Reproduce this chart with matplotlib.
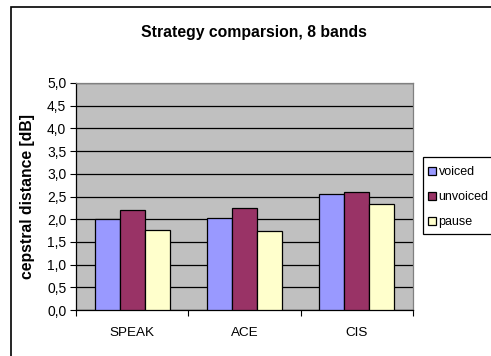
import matplotlib
matplotlib.use("Agg")
import matplotlib.pyplot as plt
import numpy as np
from matplotlib.patches import Rectangle

# Data
strategies = ["SPEAK", "ACE", "CIS"]
voiced = [2.00, 2.03, 2.56]
unvoiced = [2.21, 2.24, 2.59]
pause = [1.76, 1.74, 2.33]
series_names = ["voiced", "unvoiced", "pause"]
series_colors = ["#9999FF", "#993366", "#FFFFCC"]
yticks = [0.0, 0.5, 1.0, 1.5, 2.0, 2.5, 3.0, 3.5, 4.0, 4.5, 5.0]

plt.rcParams["font.family"] = ["Liberation Sans", "DejaVu Sans"]

W, H = 491, 356
fig = plt.figure(figsize=(W / 100, H / 100), dpi=100)
fig.patch.set_facecolor("white")

# Outer chart frame (extends past the right and bottom edges)
fig.patches.append(Rectangle((11 / W, -0.1), 1.2, 1 - 7 / H + 0.1,
                             transform=fig.transFigure, fill=False,
                             edgecolor="black", linewidth=1.2))

# Plot area in pixel coordinates
x0, x1, ytop, ybot = 76, 413, 83, 310
ax = fig.add_axes([x0 / W, 1 - ybot / H, (x1 - x0) / W, (ybot - ytop) / H])
ax.set_facecolor("#C0C0C0")

x = np.arange(len(strategies))
bw = 0.222
for i, (vals, name, col) in enumerate(zip([voiced, unvoiced, pause],
                                          series_names, series_colors)):
    ax.bar(x + (i - 1) * bw, vals, bw, color=col, edgecolor="black",
           linewidth=0.9, label=name, zorder=3)

ax.set_xlim(-0.5, 2.5)
ax.set_ylim(0, 5.0)
ax.set_yticks(yticks)
ax.set_yticklabels([f"{v:.1f}".replace(".", ",") for v in yticks], fontsize=10)
ax.yaxis.grid(True, color="black", linewidth=0.9, zorder=1)
ax.set_axisbelow(True)

ax.set_xticks(x)
ax.set_xticklabels(strategies, fontsize=9.7)
ax.tick_params(axis="x", which="major", length=0, pad=12)
ax.set_xticks([-0.5, 0.5, 1.5, 2.5], minor=True)
ax.tick_params(axis="x", which="minor", length=4, width=0.8, direction="out")
ax.tick_params(axis="y", length=4, width=0.8, pad=3)

for s in ["left", "bottom"]:
    ax.spines[s].set_color("black")
    ax.spines[s].set_linewidth(0.9)
for s in ["top", "right"]:
    ax.spines[s].set_color("#808080")
    ax.spines[s].set_linewidth(0.9)

ax.set_ylabel("cepstral distance [dB]", fontsize=11.3, fontweight="bold")
ax.yaxis.set_label_coords((35 - x0) / (x1 - x0), 0.5)

fig.text(254 / W, 1 - 33 / H, "Strategy comparsion, 8 bands", fontsize=11.3,
         fontweight="bold", ha="center", va="center")

# Legend box (runs past the right edge) and its entries
fig.patches.append(Rectangle((423 / W, 1 - 234 / H), 0.3, 77 / H,
                             transform=fig.transFigure, facecolor="white",
                             edgecolor="black", linewidth=0.9, zorder=4))
leg = fig.legend(loc="upper left", bbox_to_anchor=(423 / W, 1 - 161 / H),
                 fontsize=9, frameon=False,
                 handlelength=0.6, handleheight=0.6, handletextpad=0.25,
                 labelspacing=1.05, borderpad=0.4, borderaxespad=0)
leg.set_zorder(5)

fig.savefig("out.png", dpi=100)
